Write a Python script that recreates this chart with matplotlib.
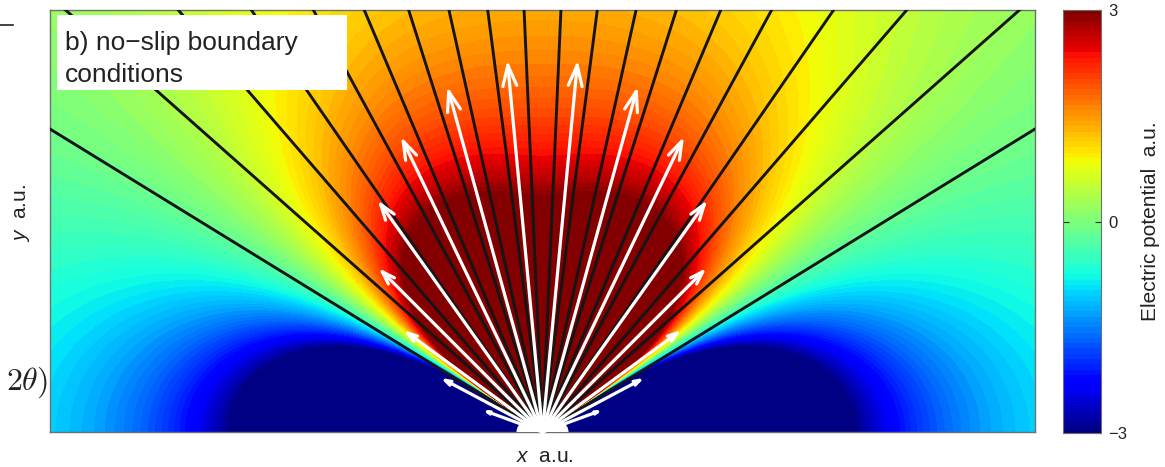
import numpy as np
import matplotlib
matplotlib.use("Agg")
import matplotlib.pyplot as plt
from matplotlib.patches import Rectangle, Ellipse
from matplotlib.lines import Line2D

plt.rcParams['font.family'] = ['Liberation Sans', 'DejaVu Sans']
plt.rcParams['mathtext.fontset'] = 'custom'
plt.rcParams['mathtext.it'] = 'Liberation Sans:italic'
plt.rcParams['mathtext.rm'] = 'Liberation Sans'

# black radial lines, angle from vertical (deg), mirrored on both sides
line_angles = [2.5, 7.4, 12.5, 17.6, 22.9, 28.5, 34.6, 40.8, 48.5, 58.4]

# white arrows: angle from vertical (deg) and length (units of plot height)
arrow_angles = [5.4, 15.4, 25.6, 35.4, 45.0, 53.7, 62.0, 69.8]
arrow_lengths = [0.885, 0.849, 0.776, 0.674, 0.549, 0.408, 0.273, 0.151]

# potential: phi = A*g(alpha)*r^-p(alpha), clipped at +-3
amp_top = 1.38      # value at top centre (r = 1)
p_vert = 1.3        # radial decay straight up
p_horiz = 2.36      # radial decay along the wall
g_k = 2.07
g_n = 3.88
vmin, vmax = -3, 3
cbar_ticks = [-3, 0, 3]

W, H = 1165, 467
fig = plt.figure(figsize=(W / 100, H / 100), dpi=100)

ax = fig.add_axes([50 / W, 35 / H, 985 / W, 422 / H])
xw = 985 / 2 / 422

x = np.linspace(-xw, xw, 800)
y = np.linspace(0, 1, 360)
X, Y = np.meshgrid(x, y)
R = np.maximum(np.hypot(X, Y), 1e-3)
alpha = np.arctan2(np.abs(X), Y)
s = np.sin(alpha)
g = 1 - g_k * s ** g_n
p = p_vert + (p_horiz - p_vert) * s ** 1.5
phi = np.clip(amp_top * g * R ** (-p), vmin, vmax)

levels = np.linspace(vmin, vmax, 81)
cf = ax.contourf(X, Y, phi, levels=levels, cmap='jet', vmin=vmin, vmax=vmax)

# radial lines
for a in line_angles:
    for sgn in (-1, 1):
        t = np.radians(a)
        ax.plot([0, sgn * 3 * np.sin(t)], [0, 3 * np.cos(t)], color='#151515', lw=2.1, zorder=3)

# arrows
for a, L in zip(arrow_angles, arrow_lengths):
    t = np.radians(a)
    hl = 15 * L / arrow_lengths[0]
    hw = 5 * L / arrow_lengths[0]
    for sgn in (-1, 1):
        ax.annotate('', xy=(sgn * L * np.sin(t), L * np.cos(t)), xytext=(0, 0),
                    arrowprops=dict(arrowstyle='->,head_length=%.2f,head_width=%.2f' % (hl, hw),
                                    color='white', lw=2.3, shrinkA=0, shrinkB=0,
                                    mutation_scale=1), zorder=4)
ax.add_patch(Ellipse((0, 0), 0.12, 0.075, color='white', zorder=5))

ax.set_xlim(-xw, xw)
ax.set_ylim(0, 1)
ax.set_xticks([])
ax.set_yticks([])
for sp in ax.spines.values():
    sp.set_color('#707070')
    sp.set_linewidth(1.0)

# label box
ax.add_patch(Rectangle(((57 - 50) / 985, (432 - 90) / 422), 290 / 985, 75 / 422,
                       transform=ax.transAxes, facecolor='white', edgecolor='none', zorder=6))
ax.text((65 - 50) / 985, (432 - 50) / 422, 'b) no\u2212slip boundary', transform=ax.transAxes,
        fontsize=19, va='baseline', ha='left', color='#222222', zorder=7)
ax.text((65 - 50) / 985, (432 - 82) / 422, 'conditions', transform=ax.transAxes,
        fontsize=19, va='baseline', ha='left', color='#222222', zorder=7)

fig.text(545 / W, 1 - 456 / H, '$x$  a.u.', fontsize=15, ha='center', va='center', color='#222222')
fig.text(22 / W, 1 - 213 / H, '$y$  a.u.', fontsize=15, ha='center', va='center', rotation=90,
         color='#222222')

# visible piece of the neighbouring panel's label
fig.text(48 / W, 1 - 383 / H, r'$2\theta)$', fontsize=23, ha='right', va='center',
         math_fontfamily='cm', color='#222222')
fig.add_artist(Line2D([0, 13 / W], [1 - 25 / H, 1 - 25 / H], color='#222222', lw=1.2))

# colorbar
cax = fig.add_axes([1063 / W, 34 / H, 38 / W, 423 / H])
cb = fig.colorbar(cf, cax=cax, ticks=cbar_ticks)
cb.outline.set_edgecolor('#707070')
cax.tick_params(direction='in', length=4, left=True, right=True, labelsize=12,
                colors='#222222', pad=5)
cax.set_yticklabels(['\u22123', '0', '3'])
cax.set_ylabel('Electric potential  a.u.', fontsize=15, labelpad=10, color='#222222')

fig.savefig('out.png', dpi=100)
